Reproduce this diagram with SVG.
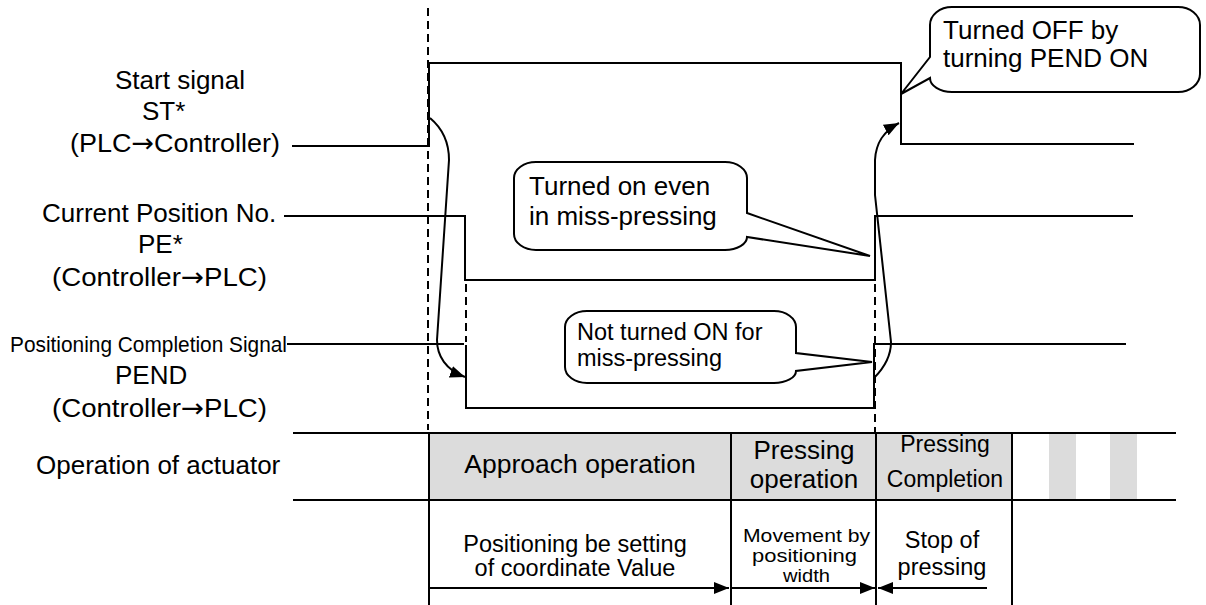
<svg xmlns="http://www.w3.org/2000/svg" width="1206" height="605" viewBox="0 0 1206 605">
<style>
.t{font-family:"Liberation Sans",Arial,sans-serif;font-size:26px;fill:#000}
.m{text-anchor:middle}
.ar{font-family:"DejaVu Sans",sans-serif}
.sm{font-size:19px}
.ln{stroke:#000;stroke-width:2;fill:none}
.dash{stroke:#000;stroke-width:2;fill:none;stroke-dasharray:8 5}
.co{fill:#fff;stroke:#000;stroke-width:2}
.gray{fill:#dcdcdc}
</style>
<defs>
<marker id="ah" markerUnits="userSpaceOnUse" markerWidth="16" markerHeight="12" refX="15" refY="6" orient="auto">
<path d="M0,0 L15,6 L0,12 Z" fill="#000"/>
</marker>
</defs>
<rect width="1206" height="605" fill="#fff"/>

<g id="table">
<rect class="gray" x="429" y="433" width="583" height="67"/>
<rect class="gray" x="1049" y="433" width="27" height="67"/>
<rect class="gray" x="1110" y="433" width="27" height="67"/>
<line class="ln" x1="293" y1="433" x2="1176" y2="433"/>
<line class="ln" x1="293" y1="500" x2="1176" y2="500"/>
<line class="ln" x1="429" y1="433" x2="429" y2="605"/>
<line class="ln" x1="731" y1="433" x2="731" y2="605"/>
<line class="ln" x1="876" y1="433" x2="876" y2="605"/>
<line class="ln" x1="1012" y1="433" x2="1012" y2="605"/>
<text class="t" x="36" y="474">Operation of actuator</text>
<text class="t m" x="580" y="473" style="font-size:26.5px">Approach operation</text>
<text class="t m" x="804" y="459">Pressing</text>
<text class="t m" x="804" y="488">operation</text>
<text class="t m" x="945" y="452" style="font-size:23px">Pressing</text>
<text class="t m" x="945" y="487" style="font-size:23px">Completion</text>
<text class="t m" x="575" y="552" style="font-size:23.5px">Positioning be setting</text>
<text class="t m" x="575" y="576" style="font-size:23.5px">of coordinate Value</text>
<text class="t sm" x="743" y="542" textLength="127" lengthAdjust="spacingAndGlyphs">Movement by</text>
<text class="t sm" x="752" y="562" textLength="105" lengthAdjust="spacingAndGlyphs">positioning</text>
<text class="t sm" x="783" y="582" textLength="47" lengthAdjust="spacingAndGlyphs">width</text>
<text class="t m" x="942" y="548" style="font-size:23.5px">Stop of</text>
<text class="t m" x="942" y="575" style="font-size:23.5px">pressing</text>
</g>

<g id="guides">
<line class="dash" x1="428" y1="8" x2="428" y2="430"/>
<line class="dash" x1="466" y1="284" x2="466" y2="342"/>
<line class="dash" x1="875" y1="284" x2="875" y2="432"/>
</g>

<g id="st-signal">
<text class="t" x="115" y="89">Start signal</text>
<text class="t" x="142" y="120">ST*</text>
<text class="t" x="70" y="152" textLength="210" lengthAdjust="spacingAndGlyphs">(PLC<tspan class="ar">→</tspan>Controller)</text>
<polyline class="ln" points="292,146 429,146 429,63 901,63 901,144 1134,144"/>
</g>

<g id="pe-signal">
<text class="t" x="42" y="222">Current Position No.</text>
<text class="t" x="138" y="253">PE*</text>
<text class="t" x="52" y="286" textLength="215" lengthAdjust="spacingAndGlyphs">(Controller<tspan class="ar">→</tspan>PLC)</text>
<polyline class="ln" points="284,216 465,216 465,280 875,280 875,216 1133,216"/>
</g>

<g id="pend-signal">
<text class="t" x="10" y="352" style="font-size:22px" textLength="277" lengthAdjust="spacingAndGlyphs">Positioning Completion Signal</text>
<text class="t" x="115" y="384">PEND</text>
<text class="t" x="52" y="417" textLength="215" lengthAdjust="spacingAndGlyphs">(Controller<tspan class="ar">→</tspan>PLC)</text>
<polyline class="ln" points="287,344 464,344"/>
<polyline class="ln" points="466,345 466,408 874,408"/>
<polyline class="ln" points="874,408 874,344 1126,344"/>
</g>

<g id="callout-off">
<path class="co" d="M952,7 H1178 A22,18 0 0 1 1200,25 V74 A22,18 0 0 1 1178,92 H952 A22,14 0 0 1 930,78 L901,94 L930,57 V25 A22,18 0 0 1 952,7 Z"/>
<text class="t" x="943" y="39">Turned OFF by</text>
<text class="t" x="943" y="67">turning PEND ON</text>
</g>

<g id="callout-on">
<path class="co" d="M536,162 H725 A22,16 0 0 1 747,178 V213 L870,256 L747,237 A22,13 0 0 1 725,250 H536 A22,16 0 0 1 514,234 V178 A22,16 0 0 1 536,162 Z"/>
<text class="t" x="529" y="195">Turned on even</text>
<text class="t" x="529" y="225">in miss-pressing</text>
</g>

<g id="callout-not">
<path class="co" d="M587,311 H774 A22,16 0 0 1 796,327 V353 L872,362 L796,371 A22,12 0 0 1 774,383 H587 A22,16 0 0 1 565,367 V327 A22,16 0 0 1 587,311 Z"/>
<text class="t" x="577" y="340" style="font-size:23.5px">Not turned ON for</text>
<text class="t" x="577" y="366" style="font-size:23.5px">miss-pressing</text>
</g>

<g id="connectors">
<path class="ln" d="M430,118 C442,128 449,142 449,160 L437,340 C437,356 446,370 465,377" marker-end="url(#ah)"/>
<path class="ln" d="M874,378 C884,368 891,356 891,342 L875,195 L875,160 C876,142 884,131 899,123" marker-end="url(#ah)"/>
<line class="ln" x1="429" y1="588" x2="729" y2="588" marker-end="url(#ah)"/>
<line class="ln" x1="731" y1="588" x2="875" y2="588" marker-end="url(#ah)"/>
<line class="ln" x1="987" y1="588" x2="878" y2="588" marker-end="url(#ah)"/>
</g>
</svg>
